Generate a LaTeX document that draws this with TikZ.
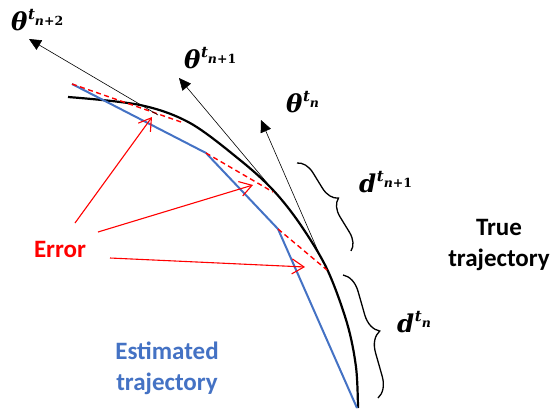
\documentclass[tikz,border=0pt]{standalone}
\usepackage{fontspec}
\newfontfamily\calibri{Carlito}
\newfontfamily\mfont{DejaVu Serif}
\usetikzlibrary{arrows.meta,decorations.pathreplacing}
\definecolor{estblue}{RGB}{68,114,196}
\newcommand\varlab[2]{{\fontsize{24.5}{24}\selectfont\bfseries\itshape #1}\kern0.5pt\raisebox{11pt}{\fontsize{15}{15}\selectfont\bfseries\itshape t}\raisebox{5pt}{\fontsize{12.5}{12}\selectfont\bfseries #2}}
\tikzset{
  truepath/.style={line width=2.2pt,black},
  estpath/.style={line width=2pt,estblue,line join=round},
  errdash/.style={line width=1.4pt,red,dash pattern=on 5pt off 3.5pt},
  errarrow/.style={line width=1.1pt,red,-{Straight Barb[length=12pt,width=15pt,line width=1.1pt]}},
  dirarrow/.style={line width=0.6pt,black,-{Triangle[length=12pt,width=11pt]}},
  bracedeco/.style={line width=1.3pt,decorate,decoration={brace,amplitude=#1}},
  mathlabel/.style={anchor=base west,inner sep=0pt,font=\mfont},
  txtlabel/.style={align=center,inner sep=0pt,font=\calibri\bfseries\fontsize{25}{31}\selectfont}
}
\begin{document}
\begin{tikzpicture}[x=1pt,y=-1pt]
\useasboundingbox (0,0) rectangle (551,410);
% true trajectory
\coordinate (c1) at (68,97);
\coordinate (c2) at (140,105);
\coordinate (c3) at (190,123);
\coordinate (c4) at (240,160);
\coordinate (c5) at (273,190);
\coordinate (c6) at (300,224);
\coordinate (c7) at (327,269);
\coordinate (c8) at (347,323);
\coordinate (c9) at (356,367);
\coordinate (c10) at (358,408);
\draw[truepath] plot[smooth,tension=0.55] coordinates {(c1) (c2) (c3) (c4) (c5) (c6) (c7) (c8) (c9) (c10)};
% estimated trajectory
\coordinate (b1) at (72,84);
\coordinate (b2) at (206,153);
\coordinate (b3) at (278,229);
\coordinate (b4) at (357,408);
\draw[estpath] (b1) -- (b2) -- (b3) -- (b4);
% error dashes
\coordinate (e1) at (184,123);
\coordinate (e2) at (273,192);
\coordinate (e3) at (327,270);
\draw[errdash] (b1) -- (e1);
\draw[errdash] (b2) -- (e2);
\draw[errdash] (b3) -- (e3);
% direction arrows
\coordinate (t1a) at (158,115);
\coordinate (t1b) at (29,39);
\coordinate (t2a) at (268,184);
\coordinate (t2b) at (179,78);
\coordinate (t3a) at (321,258);
\coordinate (t3b) at (261,120);
\draw[dirarrow] (t1a) -- (t1b);
\draw[dirarrow] (t2a) -- (t2b);
\draw[dirarrow] (t3a) -- (t3b);
% labels
\node[mathlabel] (th2) at (11,30) {\varlab{θ}{\itshape n\upshape+2}};
\node[mathlabel] (th1) at (184,68) {\varlab{θ}{\itshape n\upshape+1}};
\node[mathlabel] (th0) at (286,112) {\varlab{θ}{\itshape n}};
\node[mathlabel] (d1) at (359,192) {\varlab{d}{\itshape n\upshape+1}};
\node[mathlabel] (d0) at (397,332) {\varlab{d}{\itshape n}};
% braces
\coordinate (br1a) at (297,163);
\coordinate (br1b) at (351,251);
\coordinate (br2a) at (343,275);
\coordinate (br2b) at (378,398);
\draw[bracedeco=17pt] (br1a) -- (br1b);
\draw[bracedeco=20pt] (br2a) -- (br2b);
% error label and arrows
\node[txtlabel,red,anchor=base] (err) at (60,257) {Error};
\coordinate (ea1) at (75,223);
\coordinate (ea2) at (98,232);
\coordinate (ea3) at (110,258);
\coordinate (et1) at (152,117);
\coordinate (et2) at (253,185);
\coordinate (et3) at (305,267);
\draw[errarrow] (ea1) -- (et1);
\draw[errarrow] (ea2) -- (et2);
\draw[errarrow] (ea3) -- (et3);
% trajectory labels
\node[txtlabel,estblue] (est) at (167,368) {Estimated\\trajectory};
\node[txtlabel,black] (tru) at (499,245) {True\\trajectory};
\end{tikzpicture}
\end{document}
